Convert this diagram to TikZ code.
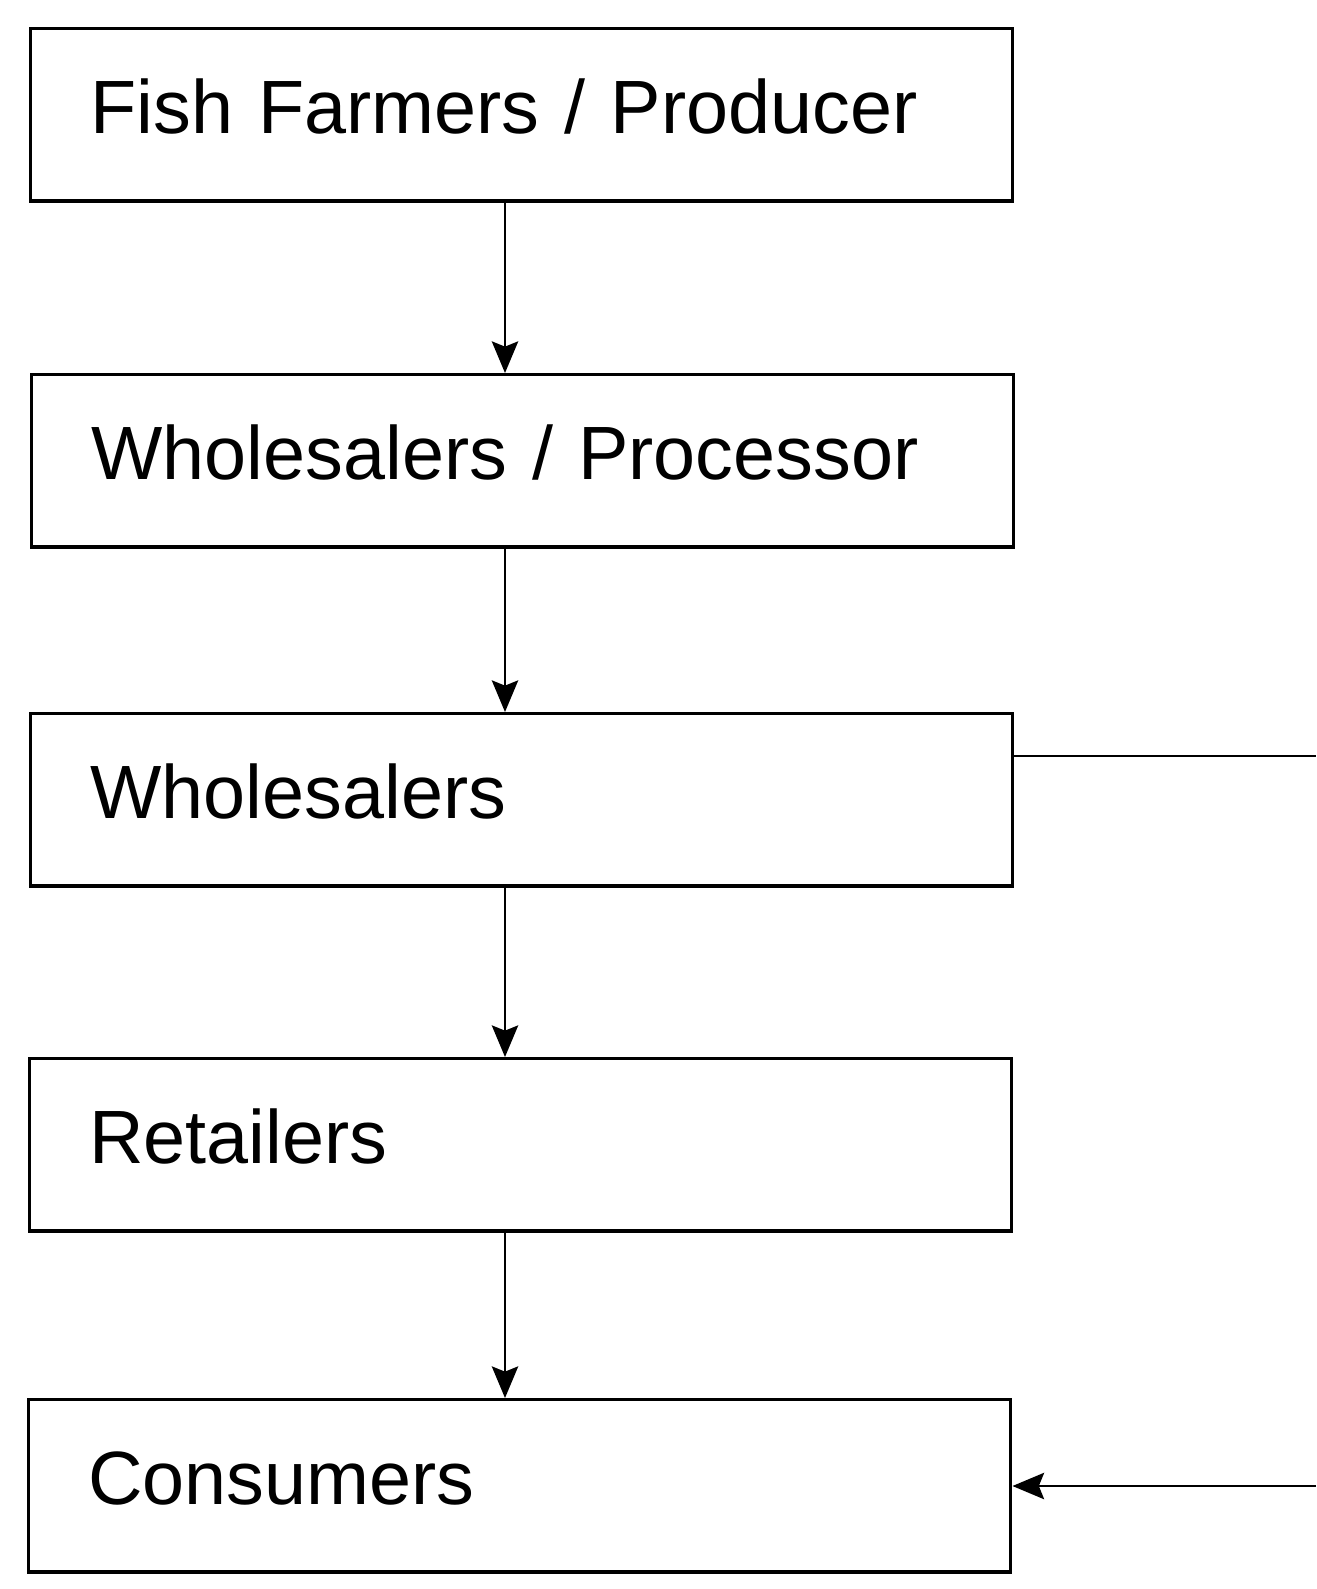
\documentclass[tikz,border=0pt]{standalone}
\usepackage{fontspec}
\setmainfont{Liberation Sans}
\usetikzlibrary{arrows.meta}

\begin{document}
\begin{tikzpicture}[x=0.02cm, y=-0.02cm, >={Stealth[length=18pt,width=15pt,inset=3pt]}]

    \useasboundingbox (0,0) rectangle (1316,1589);

    % ── Box style ────────────────────────────────────────────────────────────
    \tikzset{
        chainbox/.style={draw, line width=1.9pt, anchor=north west,
            inner xsep=34pt, inner ysep=0pt, text width=491pt, align=left,
            text height=59.5pt, text depth=38.6pt,
            font=\fontsize{43}{50}\selectfont},
        flow/.style={line width=1.3pt}
    }

    % ── Supply chain stages ──────────────────────────────────────────────────
    \node[chainbox] (farmer) at (29,27)   {Fish Farmers / Producer};
    \node[chainbox] (proc)   at (30,373)  {Wholesalers / Processor};
    \node[chainbox] (whole)  at (29,712)  {Wholesalers};
    \node[chainbox] (retail) at (28,1057) {Retailers};
    \node[chainbox] (cons)   at (27,1398) {Consumers};

    % ── Downward flow ────────────────────────────────────────────────────────
    \coordinate (axis) at (505,0);
    \draw[flow, ->] (farmer.south -| axis) -- (proc.north -| axis);
    \draw[flow, ->] (proc.south -| axis)   -- (whole.north -| axis);
    \draw[flow, ->] (whole.south -| axis)  -- (retail.north -| axis);
    \draw[flow, ->] (retail.south -| axis) -- (cons.north -| axis);

    % ── Bypass on the right (runs off the page) ──────────────────────────────
    \coordinate (wsout) at (1316,756);
    \coordinate (csin)  at (1316,1486);
    \draw[flow] (whole.east |- wsout) -- (wsout);
    \draw[flow, ->] (csin) -- (cons.east |- csin);

\end{tikzpicture}
\end{document}
